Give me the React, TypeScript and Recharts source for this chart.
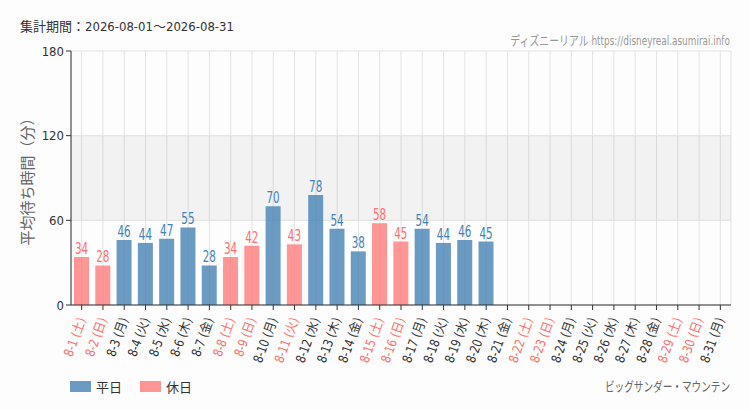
import React from 'react';
import {
  BarChart,
  Bar,
  XAxis,
  YAxis,
  CartesianGrid,
  ReferenceArea,
  Cell,
  LabelList,
} from 'recharts';

const days: string[] = [
  '8-1', '8-2', '8-3', '8-4', '8-5', '8-6', '8-7', '8-8', '8-9', '8-10',
  '8-11', '8-12', '8-13', '8-14', '8-15', '8-16', '8-17', '8-18', '8-19', '8-20',
  '8-21', '8-22', '8-23', '8-24', '8-25', '8-26', '8-27', '8-28', '8-29', '8-30', '8-31',
];
const weekdays: string[] = [
  '土', '日', '月', '火', '水', '木', '金', '土', '日', '月',
  '火', '水', '木', '金', '土', '日', '月', '火', '水', '木',
  '金', '土', '日', '月', '火', '水', '木', '金', '土', '日', '月',
];
const holidays: boolean[] = [
  true, true, false, false, false, false, false, true, true, false,
  true, false, false, false, true, true, false, false, false, false,
  false, true, true, false, false, false, false, false, true, true, false,
];
const waitTimes: (number | null)[] = [
  34, 28, 46, 44, 47, 55, 28, 34, 42, 70,
  43, 78, 54, 38, 58, 45, 54, 44, 46, 45,
  null, null, null, null, null, null, null, null, null, null, null,
];
const yTicks: number[] = [0, 60, 120, 180];

const BLUE = '#4682b4';
const PINK = '#ff7a7a';
const PINK_TEXT = '#ff7070';

const data = days.map((d, i) => ({
  day: d,
  label: `${d} (${weekdays[i]})`,
  holiday: holidays[i],
  value: waitTimes[i],
}));

const condensed = "'DejaVu Sans Condensed', 'Noto Sans CJK JP', sans-serif";

const XTick = (props: any) => {
  const { x, y, payload, index } = props;
  const item = data[index] ?? data.find((d) => d.day === payload.value);
  const color = item && item.holiday ? PINK_TEXT : '#333';
  return (
    <g transform={`translate(${x},${y + 6})`}>
      <text
        transform="rotate(-70) scale(0.9,1)"
        textAnchor="end"
        dy="0.35em"
        fill={color}
        fontSize={13}
        fontFamily={condensed}
      >
        {item ? item.label : payload.value}
      </text>
    </g>
  );
};

const ValueLabel = (props: any) => {
  const { x, y, width, value, index } = props;
  if (value === null || value === undefined) return null;
  const color = data[index].holiday ? PINK_TEXT : BLUE;
  return (
    <text
      transform={`translate(${x + width / 2},${y - 3}) scale(0.72,1)`}
      textAnchor="middle"
      fill={color}
      fontSize={16}
      fontFamily={condensed}
    >
      {value}
    </text>
  );
};

export default function App() {
  return (
    <div
      style={{
        position: 'absolute',
        left: 0,
        top: 0,
        width: 750,
        height: 410,
        background: '#fcfdfc',
        fontFamily: condensed,
      }}
    >
      <div
        style={{
          position: 'absolute',
          left: 20,
          top: 16,
          fontSize: 13,
          color: '#333',
          whiteSpace: 'nowrap',
        }}
      >
        集計期間：2026-08-01～2026-08-31
      </div>
      <div
        style={{
          position: 'absolute',
          right: 20,
          top: 30,
          fontSize: 13,
          color: '#999',
          whiteSpace: 'nowrap',
          transform: 'scaleX(0.76)',
          transformOrigin: 'right center',
        }}
      >
        ディズニーリアル https://disneyreal.asumirai.info
      </div>
      <BarChart
        width={750}
        height={410}
        data={data}
        margin={{ top: 51, right: 19, bottom: 0, left: 0 }}
        barCategoryGap={3}
      >
        <CartesianGrid stroke="#e3e3e3" strokeWidth={1} />
        <ReferenceArea y1={60} y2={120} fill="#000" fillOpacity={0.045} stroke="none" ifOverflow="hidden" />
        <XAxis
          dataKey="day"
          interval={0}
          tick={<XTick />}
          tickLine={{ stroke: '#333' }}
          tickSize={5}
          axisLine={{ stroke: '#333' }}
          height={105}
        />
        <YAxis
          domain={[0, 180]}
          ticks={yTicks}
          width={71}
          tickSize={5}
          tickLine={{ stroke: '#333' }}
          axisLine={{ stroke: '#333' }}
          tick={{ fill: '#333', fontSize: 13, fontFamily: condensed }}
          label={{
            value: '平均待ち時間（分）',
            angle: -90,
            position: 'insideLeft',
            offset: 28,
            style: { fill: '#666', fontSize: 15, textAnchor: 'middle', fontFamily: "'Noto Sans CJK JP', sans-serif" },
          }}
        />
        <Bar dataKey="value" barSize={15} isAnimationActive={false} fillOpacity={0.8}>
          {data.map((d, i) => (
            <Cell key={i} fill={d.holiday ? PINK : BLUE} />
          ))}
          <LabelList dataKey="value" content={<ValueLabel />} />
        </Bar>
      </BarChart>
      <div
        style={{
          position: 'absolute',
          left: 70,
          top: 377,
          display: 'flex',
          alignItems: 'center',
          fontSize: 13,
          color: '#333',
          fontFamily: "'Noto Sans CJK JP', sans-serif",
        }}
      >
        <span style={{ display: 'inline-block', width: 21, height: 11, background: BLUE, opacity: 0.8, marginRight: 5 }} />
        <span style={{ marginRight: 18 }}>平日</span>
        <span style={{ display: 'inline-block', width: 21, height: 11, background: PINK, opacity: 0.8, marginRight: 5 }} />
        <span>休日</span>
      </div>
      <div
        style={{
          position: 'absolute',
          right: 20,
          top: 376,
          fontSize: 13,
          color: '#666',
          whiteSpace: 'nowrap',
          fontFamily: "'Noto Sans CJK JP', sans-serif",
          transform: 'scaleX(0.74)',
          transformOrigin: 'right center',
        }}
      >
        ビッグサンダー・マウンテン
      </div>
    </div>
  );
}
